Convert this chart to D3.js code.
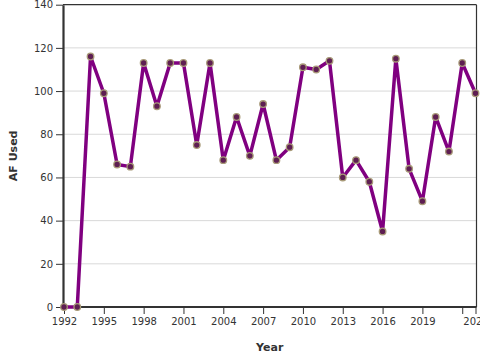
<!DOCTYPE html>
<html>
<head>
<meta charset="utf-8">
<script src="https://cdn.jsdelivr.net/npm/d3@7"></script>
<style>
  html, body { margin: 0; padding: 0; background: #fff; }
  svg { display: block; font-family: "DejaVu Sans", sans-serif; }
</style>
</head>
<body>
<svg id="chart" width="480" height="360"></svg>
<script>
const years = [1992,1993,1994,1995,1996,1997,1998,1999,2000,2001,2002,2003,2004,2005,2006,2007,2008,2009,2010,2011,2012,2013,2014,2015,2016,2017,2018,2019,2020,2021,2022,2023];
const afUsed = [0,0,116,99,66,65,113,93,113,113,75,113,68,88,70,94,68,74,111,110,114,60,68,58,35,115,64,49,88,72,113,99];
const xTicks = [1992,1995,1998,2001,2004,2007,2010,2013,2016,2019,2022,2023];
const xTickLabels = ["1992","1995","1998","2001","2004","2007","2010","2013","2016","2019","","2023"];
const yTicks = [0,20,40,60,80,100,120,140];

const data = years.map((y, i) => ({ year: y, value: afUsed[i] }));

const margin = { left: 63, right: 4, top: 4.7, bottom: 53 };
const W = 480, H = 360;
const svg = d3.select("#chart");

const x = d3.scaleLinear().domain([1992, 2023]).range([margin.left + 1, 475.5]);
const y = d3.scaleLinear().domain([0, 140]).range([307, margin.top]);

// gridlines
svg.append("g")
  .selectAll("line")
  .data(yTicks.filter(d => d > 0 && d < 140))
  .join("line")
  .attr("x1", margin.left).attr("x2", 476.5)
  .attr("y1", d => y(d)).attr("y2", d => y(d))
  .attr("stroke", "#d9d9d9").attr("stroke-width", 1);

// frame top & right
svg.append("line").attr("x1", margin.left).attr("x2", 476.5)
  .attr("y1", y(140)).attr("y2", y(140)).attr("stroke", "#333").attr("stroke-width", 1.2);
svg.append("line").attr("x1", 476.5).attr("x2", 476.5)
  .attr("y1", y(140)).attr("y2", y(0)).attr("stroke", "#333").attr("stroke-width", 1.2);

// x axis
const xAxis = d3.axisBottom(x)
  .tickValues(xTicks)
  .tickFormat((d, i) => xTickLabels[i])
  .tickSize(7).tickPadding(4).tickSizeOuter(0);
const gx = svg.append("g").attr("transform", `translate(0,${y(0)})`).call(xAxis);
gx.select(".domain").attr("stroke", "#333").attr("stroke-width", 2.2)
  .attr("d", `M${margin.left},0H476.5`);
gx.selectAll(".tick line").attr("stroke", "#333").attr("stroke-width", 1);
gx.selectAll(".tick text").attr("fill", "#333").style("font-size", "10px")
  .style("font-family", "DejaVu Sans, sans-serif");

// y axis
const yAxis = d3.axisLeft(y).tickValues(yTicks).tickSize(7).tickPadding(3).tickSizeOuter(0);
const gy = svg.append("g").attr("transform", `translate(${margin.left},0)`).call(yAxis);
gy.select(".domain").attr("stroke", "#333").attr("stroke-width", 2.2);
gy.selectAll(".tick line").attr("stroke", "#333").attr("stroke-width", 1);
gy.selectAll(".tick text").attr("fill", "#333").style("font-size", "10px")
  .style("font-family", "DejaVu Sans, sans-serif");

// line
const line = d3.line().x(d => x(d.year)).y(d => y(d.value));
svg.append("path").datum(data)
  .attr("fill", "none").attr("stroke", "#800080").attr("stroke-width", 3.5)
  .attr("stroke-linejoin", "round").attr("d", line);

// markers
svg.append("g").selectAll("circle").data(data).join("circle")
  .attr("cx", d => x(d.year)).attr("cy", d => y(d.value)).attr("r", 3.3)
  .attr("fill", "#5e1e52").attr("stroke", "#a89a78").attr("stroke-width", 1.3);

// axis titles
svg.append("text").attr("x", (margin.left + 476.5) / 2).attr("y", 351)
  .attr("text-anchor", "middle").attr("fill", "#333")
  .style("font-size", "11px").style("font-weight", "bold").text("Year");
svg.append("text").attr("transform", `translate(17,${(y(0) + y(140)) / 2}) rotate(-90)`)
  .attr("text-anchor", "middle").attr("fill", "#333")
  .style("font-size", "11px").style("font-weight", "bold").text("AF Used");
</script>
</body>
</html>
